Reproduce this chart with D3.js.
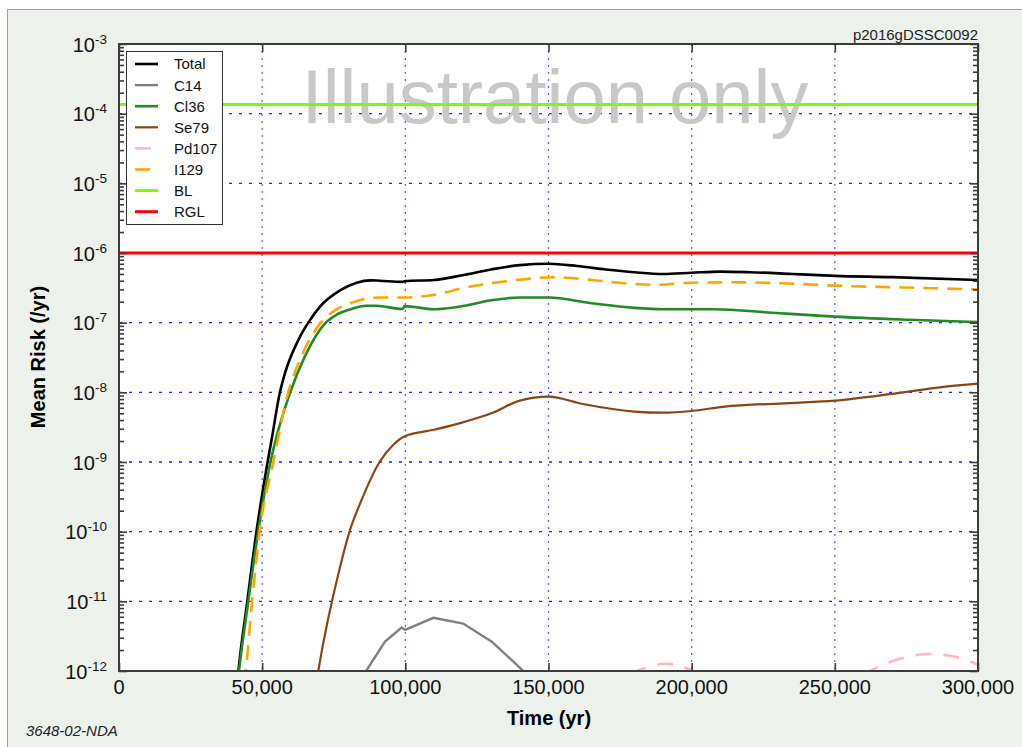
<!DOCTYPE html>
<html>
<head>
<meta charset="utf-8">
<script src="https://cdn.jsdelivr.net/npm/d3@7"></script>
<style>
html, body { margin: 0; padding: 0; background: #fff; }
svg { display: block; font-family: "Liberation Sans", Arial, sans-serif; }
</style>
</head>
<body>
<div id="chart"></div>
<script>
// ─── data (time in yr, mean risk in /yr) ────────────────────────────────────

const seriesNames = ["Total", "C14", "Cl36", "Se79", "Pd107", "I129", "BL", "RGL"];
const seriesColors = ["#000000", "#808080", "#228b22", "#8b4513", "#ffb6c1", "#ffa500", "#7cfc00", "#ff0000"];

const totalRisk = [[40500,3e-13],[41700,1e-12],[44800,1e-11],[48000,1e-10],[51900,1e-9],[53300,2.1e-9],
  [56200,1e-8],[58000,1.9e-8],[62600,5.6e-8],[66100,1e-7],[70200,1.7e-7],[77200,2.9e-7],[83000,3.75e-7],
  [88000,4.05e-7],[91000,4.0e-7],[99000,3.85e-7],[100000,3.95e-7],[110000,4.1e-7],[120000,4.8e-7],
  [130000,5.8e-7],[140000,6.7e-7],[150000,7.0e-7],[160000,6.5e-7],[170000,5.8e-7],[180000,5.3e-7],
  [190000,5.0e-7],[200000,5.2e-7],[210000,5.4e-7],[220000,5.3e-7],[235000,5.0e-7],[250000,4.7e-7],
  [270000,4.5e-7],[300000,4.1e-7]];

const c14Risk = [[84000,4e-13],[86300,1e-12],[92900,2.64e-12],[98700,4.2e-12],[99900,3.9e-12],
  [109800,5.8e-12],[120200,4.8e-12],[130200,2.64e-12],[141200,1e-12],[144000,6e-13]];

const cl36Risk = [[40500,3e-13],[41900,1e-12],[45150,1e-11],[48600,1e-10],[52900,1e-9],[59800,1e-8],
  [64800,3.2e-8],[72200,1e-7],[76000,1.3e-7],[80700,1.55e-7],[86500,1.75e-7],[90000,1.75e-7],
  [99000,1.57e-7],[99700,1.73e-7],[110000,1.56e-7],[120000,1.73e-7],[130000,2.1e-7],[140000,2.3e-7],
  [150000,2.3e-7],[165000,1.9e-7],[180000,1.63e-7],[190000,1.56e-7],[208000,1.56e-7],[228000,1.39e-7],
  [250000,1.22e-7],[276000,1.1e-7],[300000,1.02e-7]];

const se79Risk = [[67000,2e-13],[69600,1e-12],[77200,3.1e-11],[80500,1e-10],[84800,2.9e-10],[91000,1e-9],
  [96000,1.8e-9],[100000,2.36e-9],[110000,2.9e-9],[120000,3.7e-9],[130000,5.0e-9],[140000,7.6e-9],
  [150000,8.7e-9],[162000,6.8e-9],[180000,5.3e-9],[190000,5.1e-9],[200000,5.4e-9],[211000,6.2e-9],
  [234000,7.0e-9],[250000,7.6e-9],[270000,9.5e-9],[288000,1.2e-8],[300000,1.33e-8]];

const pd107Risk = [[170000,6e-13],[180800,1e-12],[191000,1.27e-12],[200600,1e-12],[210000,6e-13],
  [230000,3e-13],[252000,5e-13],[262300,1e-12],[272800,1.5e-12],[283000,1.75e-12],[293700,1.55e-12],
  [300000,1.22e-12]];

const i129Risk = [[42500,3e-13],[44250,1e-12],[46500,1e-11],[49100,1e-10],[53900,1e-9],[59100,1e-8],
  [63600,3.2e-8],[70500,1e-7],[76000,1.55e-7],[80700,1.9e-7],[86000,2.2e-7],[91000,2.3e-7],
  [100000,2.3e-7],[111000,2.55e-7],[121000,3.2e-7],[132500,3.8e-7],[144000,4.3e-7],[152000,4.5e-7],
  [165000,4.1e-7],[179500,3.6e-7],[188000,3.5e-7],[200000,3.75e-7],[215000,3.8e-7],[233500,3.65e-7],
  [250000,3.4e-7],[273500,3.2e-7],[300000,3.0e-7]];

const blRisk = [[0,1.35e-4],[300000,1.35e-4]];
const rglRisk = [[0,1e-6],[300000,1e-6]];

const xTicks = [0, 50000, 100000, 150000, 200000, 250000, 300000];
const yExponents = [-3, -4, -5, -6, -7, -8, -9, -10, -11, -12];

// ─── layout ────────────────────────────────────────────────────────────────

const W = 1022, H = 747;
const X0 = 119, X1 = 978, Y0 = 44, Y1 = 671;

const svg = d3.select("#chart").append("svg")
    .attr("width", W)
    .attr("height", H)
    .attr("viewBox", `0 0 ${W} ${H}`);

// figure panel
svg.append("rect")
    .attr("x", 7.5).attr("y", 9.5)
    .attr("width", W + 10).attr("height", H + 10)
    .attr("fill", "#edf1ec")
    .attr("stroke", "#a0a0a0");

const x = d3.scaleLinear().domain([0, 300000]).range([X0, X1]);
const y = d3.scaleLog().domain([1e-12, 1e-3]).range([Y1, Y0]);

svg.append("rect")
    .attr("x", X0).attr("y", Y0)
    .attr("width", X1 - X0).attr("height", Y1 - Y0)
    .attr("fill", "#fff");

svg.append("defs").append("clipPath").attr("id", "plot-clip")
    .append("rect")
    .attr("x", X0).attr("y", Y0)
    .attr("width", X1 - X0).attr("height", Y1 - Y0);

// grid
const grid = svg.append("g");
grid.selectAll(".hgrid")
    .data(yExponents.slice(1, -1))
    .join("line")
    .attr("x1", X0).attr("x2", X1)
    .attr("y1", d => y(Math.pow(10, d))).attr("y2", d => y(Math.pow(10, d)))
    .attr("stroke", "#1f1fff")
    .attr("stroke-width", 1.3)
    .attr("stroke-dasharray", "3,7");
grid.selectAll(".vgrid")
    .data(xTicks.slice(1, -1))
    .join("line")
    .attr("x1", d => x(d)).attr("x2", d => x(d))
    .attr("y1", Y0).attr("y2", Y1)
    .attr("stroke", "#5050ff")
    .attr("stroke-width", 1.2)
    .attr("stroke-dasharray", "2,5");

// watermark
svg.append("text")
    .attr("x", 555).attr("y", 123)
    .attr("text-anchor", "middle")
    .attr("font-size", 76)
    .attr("fill", "#c8c8c8")
    .text("Illustration only");

// curves
const smooth = d3.line()
    .x(d => x(d[0]))
    .y(d => y(d[1]))
    .curve(d3.curveMonotoneX);
const straight = d3.line()
    .x(d => x(d[0]))
    .y(d => y(d[1]));

const seriesData = [totalRisk, c14Risk, cl36Risk, se79Risk, pd107Risk, i129Risk, blRisk, rglRisk];
const seriesWidth = [2.6, 2.4, 2.6, 2.2, 2.6, 2.6, 3, 3];
const seriesDash = [null, null, null, null, "16,12", "15,9", null, null];

const curves = svg.append("g").attr("clip-path", "url(#plot-clip)");
curves.selectAll("path")
    .data(seriesData)
    .join("path")
    .attr("d", (d, i) => i === 1 ? straight(d) : smooth(d))
    .attr("fill", "none")
    .attr("stroke", (d, i) => seriesColors[i])
    .attr("stroke-width", (d, i) => seriesWidth[i])
    .attr("stroke-dasharray", (d, i) => seriesDash[i]);

// axes: ticks point into the plot
const isMajor = v => Math.abs(Math.log10(v) - Math.round(Math.log10(v))) < 1e-6;
const yTickVals = [];
for (let e = -12; e < -3; e++) {
    for (let m = 1; m < 10; m++) yTickVals.push(m * Math.pow(10, e));
}
yTickVals.push(1e-3);

const axisColor = "#3c3c3c";

const gLeft = svg.append("g").attr("transform", `translate(${X0},0)`)
    .call(d3.axisLeft(y).tickValues(yTickVals).tickFormat("").tickSize(-5));
const gRight = svg.append("g").attr("transform", `translate(${X1},0)`)
    .call(d3.axisRight(y).tickValues(yTickVals).tickFormat("").tickSize(-5));
gLeft.selectAll(".tick line").attr("x2", d => isMajor(d) ? 8 : 5);
gRight.selectAll(".tick line").attr("x2", d => isMajor(d) ? -8 : -5);

const gBottom = svg.append("g").attr("transform", `translate(0,${Y1})`)
    .call(d3.axisBottom(x).tickValues(xTicks).tickFormat("").tickSize(-8));
const gTop = svg.append("g").attr("transform", `translate(0,${Y0})`)
    .call(d3.axisTop(x).tickValues(xTicks).tickFormat("").tickSize(-8));

[gLeft, gRight, gBottom, gTop].forEach(g => {
    g.select(".domain").remove();
    g.selectAll(".tick line").attr("stroke", axisColor).attr("stroke-width", 1.6);
});

svg.append("rect")
    .attr("x", X0).attr("y", Y0)
    .attr("width", X1 - X0).attr("height", Y1 - Y0)
    .attr("fill", "none")
    .attr("stroke", axisColor)
    .attr("stroke-width", 2);

// tick labels
svg.append("g").selectAll("text")
    .data(xTicks)
    .join("text")
    .attr("x", d => x(d))
    .attr("y", 694)
    .attr("text-anchor", "middle")
    .attr("font-size", 20)
    .attr("fill", "#111")
    .text(d3.format(","));

const yLabels = svg.append("g").selectAll("text")
    .data(yExponents)
    .join("text")
    .attr("x", 107)
    .attr("y", d => y(Math.pow(10, d)) + 7.5)
    .attr("text-anchor", "end")
    .attr("fill", "#111");
yLabels.append("tspan").attr("font-size", 20).text("10");
yLabels.append("tspan").attr("font-size", 13.5).attr("dy", -8).text(d => "-" + (-d));

// axis titles
svg.append("text")
    .attr("x", 549).attr("y", 725)
    .attr("text-anchor", "middle")
    .attr("font-size", 20).attr("font-weight", "bold")
    .text("Time (yr)");
svg.append("text")
    .attr("transform", "translate(45,357) rotate(-90)")
    .attr("text-anchor", "middle")
    .attr("font-size", 20).attr("font-weight", "bold")
    .text("Mean Risk (/yr)");

// corner labels
svg.append("text")
    .attr("x", 978).attr("y", 40)
    .attr("text-anchor", "end")
    .attr("font-size", 15).attr("fill", "#222")
    .text("p2016gDSSC0092");
svg.append("text")
    .attr("x", 26).attr("y", 736)
    .attr("font-size", 15).attr("font-style", "italic").attr("fill", "#222")
    .text("3648-02-NDA");

// legend
const legend = svg.append("g");
legend.append("rect")
    .attr("x", 126.5).attr("y", 51.5)
    .attr("width", 96).attr("height", 173)
    .attr("fill", "#fff")
    .attr("stroke", "#333");
const rows = legend.selectAll(".row")
    .data(seriesNames)
    .join("g")
    .attr("transform", (d, i) => `translate(0,${64 + i * 21.1})`);
rows.append("line")
    .attr("x1", 135).attr("x2", 158)
    .attr("stroke", (d, i) => seriesColors[i])
    .attr("stroke-width", (d, i) => seriesWidth[i])
    .attr("stroke-dasharray", (d, i) => seriesDash[i]);
rows.append("text")
    .attr("x", 174).attr("dy", "0.36em")
    .attr("font-size", 15).attr("fill", "#111")
    .text(d => d);
</script>
</body>
</html>
